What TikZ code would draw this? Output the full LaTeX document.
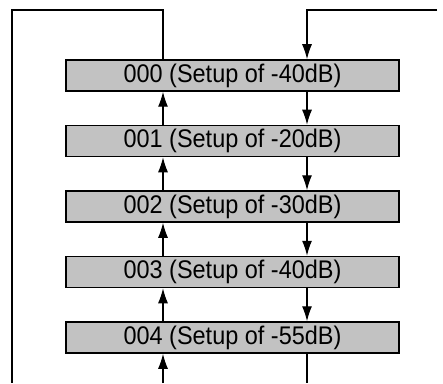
\documentclass[tikz,border=0pt]{standalone}
\usepackage{fontspec}
\setmainfont{Liberation Sans}
\newfontfamily\boxfont[FakeStretch=0.92]{Liberation Sans}
\usepackage{tikz}
\usetikzlibrary{arrows.meta,positioning}

\begin{document}
\begin{tikzpicture}[x=1pt,y=1pt,>={Latex[length=15pt,width=10pt]},
  setupbox/.style={draw,line width=1.5pt,fill=black!24,minimum width=333pt,minimum height=31pt,inner sep=0pt,
    font=\boxfont\fontsize{25.5}{28}\selectfont},
  wire/.style={line width=1.2pt}]
\useasboundingbox (0,0) rectangle (443,383);
\node[setupbox] (b0) at (232.5,307.5) {000 (Setup of -40dB)};
\node[setupbox,below=33pt of b0] (b1) {001 (Setup of -20dB)};
\node[setupbox,below=33pt of b1] (b2) {002 (Setup of -30dB)};
\node[setupbox,below=33pt of b2] (b3) {003 (Setup of -40dB)};
\node[setupbox,below=33pt of b3] (b4) {004 (Setup of -55dB)};
% outer loop
\coordinate (lt) at (12,373);
\coordinate (lb) at (12,0);
\coordinate (rt) at (437,373);
\coordinate (up0) at ([xshift=-69.5pt]b0.north);
\coordinate (dn0) at ([xshift=74.5pt]b0.north);
\coordinate (up4) at ([xshift=-69.5pt]b4.south);
\coordinate (dn4) at ([xshift=74.5pt]b4.south);
\draw[wire] (up0) |- (lt) -- (lb);
\draw[wire,->] (rt) -| (dn0);
\draw[wire,->] (up4 |- lb) -- (up4);
\draw[wire] (dn4) -- (dn4 |- lb);
% steps between boxes
\foreach \a/\b in {b0/b1,b1/b2,b2/b3,b3/b4}{
  \draw[wire,->] ([xshift=-69.5pt]\b.north) -- ([xshift=-69.5pt]\a.south);
  \draw[wire,->] ([xshift=74.5pt]\a.south) -- ([xshift=74.5pt]\b.north);
}
\end{tikzpicture}
\end{document}
